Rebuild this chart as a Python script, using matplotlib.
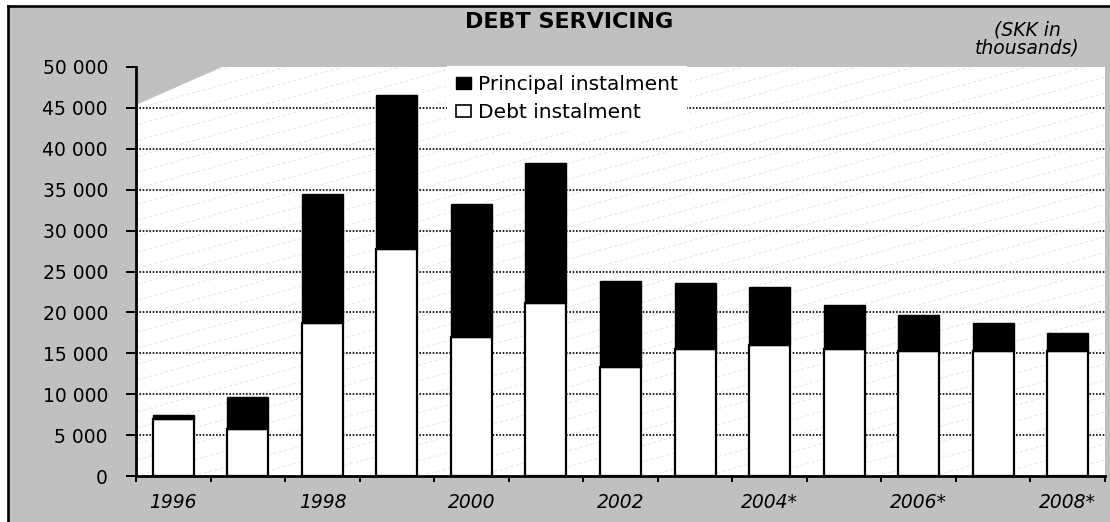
import numpy as np
import matplotlib
matplotlib.use("Agg")
import matplotlib.pyplot as plt
from matplotlib.patches import Rectangle, Polygon
from matplotlib.lines import Line2D

plt.rcParams['font.family'] = ['DejaVu Sans']

# Data (SKK in thousands)
years = ['1996', '1997', '1998', '1999', '2000', '2001', '2002', '2003',
         '2004*', '2005*', '2006*', '2007*', '2008*']
debt = [7000, 5750, 18700, 27800, 17000, 21150, 13350, 15500, 16000,
        15500, 15300, 15300, 15300]
principal = [400, 3850, 15800, 18800, 16300, 17150, 10500, 8050, 7100,
             5400, 4350, 3400, 2150]
yticks = [0, 5000, 10000, 15000, 20000, 25000, 30000, 35000, 40000, 45000, 50000]

gray = '#c0c0c0'

fig = plt.figure(figsize=(11.1, 5.22), dpi=100, facecolor='white')

# gray panel with black border on top and left
fig.patches.append(Rectangle((8 / 1110, 0), 1.0, 516 / 522,
                             transform=fig.transFigure, facecolor=gray,
                             edgecolor='none', zorder=-2))
fig.lines.append(Line2D([8 / 1110, 1], [516 / 522, 516 / 522],
                        transform=fig.transFigure, color='black', lw=1.9, zorder=-1))
fig.lines.append(Line2D([8 / 1110, 8 / 1110], [0, 516 / 522],
                        transform=fig.transFigure, color='black', lw=1.9, zorder=-1))

ax = fig.add_axes([136 / 1110, 46 / 522, 969 / 1110, 409 / 522])
ax.set_zorder(1)
ax.set_facecolor('white')

# faint diagonal background lines
slope = 0.28 * 969 / 409
for x0 in np.arange(-4.0, 1.05, 57 / 969):
    ax.plot([x0, x0 + 4.2], [0, 4.2 * slope], transform=ax.transAxes,
            color='#e8e8e8', lw=0.8, linestyle=(0, (3, 2)), zorder=0.2)

# gray corner triangle
ax.add_patch(Polygon([(0, 1), (86 / 969, 1), (0, 1 - 38 / 409)], closed=True,
                     transform=ax.transAxes, facecolor=gray, edgecolor='none',
                     zorder=0.3))

x = np.arange(len(years))
ax.bar(x, debt, width=0.55, color='white', edgecolor='black', linewidth=1.6,
       zorder=2, label='Debt instalment')
ax.bar(x, principal, width=0.55, bottom=debt, color='black', edgecolor='black',
       linewidth=1.0, zorder=2, label='Principal instalment')

ax.set_xlim(-0.5, len(years) - 0.5)
ax.set_ylim(0, 50000)

# y axis
ax.set_yticks(yticks)
ax.set_yticklabels([f'{v:,}'.replace(',', ' ') for v in yticks])
ax.tick_params(axis='y', direction='out', length=7.2, width=1.44, pad=13,
               labelsize=13.5, colors='black')
ax.set_axisbelow(True)
ax.yaxis.grid(True, linestyle=(0, (1, 1)), color='black', linewidth=1.2)
gl = ax.get_ygridlines()
gl[0].set_visible(False)
gl[-1].set_visible(False)

# x axis: ticks at category boundaries, labels at centres (every other year)
ax.set_xticks(np.arange(-0.5, len(years), 1.0))
ax.set_xticklabels([])
ax.set_xticks(x, minor=True)
ax.set_xticklabels([y if i % 2 == 0 else '' for i, y in enumerate(years)],
                   minor=True, fontstyle='italic', fontsize=13.5)
ax.tick_params(axis='x', which='major', direction='out', length=4.3, width=1.44)
ax.tick_params(axis='x', which='minor', length=0, pad=12)

for side in ['top', 'right']:
    ax.spines[side].set_visible(False)
for side in ['left', 'bottom']:
    ax.spines[side].set_linewidth(2)
    ax.spines[side].set_color('black')

# legend
h_p = Rectangle((0, 0), 1, 1, facecolor='black', edgecolor='black')
h_d = Rectangle((0, 0), 1, 1, facecolor='white', edgecolor='black', linewidth=1.2)
leg = ax.legend([h_p, h_d], ['Principal instalment', 'Debt instalment'],
                loc='upper left', bbox_to_anchor=(447 / 1110, 1 - 66 / 522),
                bbox_transform=fig.transFigure,
                frameon=True, fancybox=False, facecolor='white',
                edgecolor='white', framealpha=1, fontsize=14.5,
                handlelength=0.75, handleheight=0.6, handletextpad=0.35,
                labelspacing=0.45, borderpad=0.45, borderaxespad=0)
leg.get_frame().set_linewidth(0)

# titles
fig.text(569 / 1110, 1 - 21.5 / 522, 'DEBT SERVICING', ha='center', va='center',
         fontsize=16, fontweight='bold')
fig.text(1027 / 1110, 1 - 39 / 522, '(SKK in\nthousands)', ha='center',
         va='center', fontsize=13.5, fontstyle='italic', linespacing=1.0)

fig.savefig('out.png', dpi=100, facecolor=fig.get_facecolor())
